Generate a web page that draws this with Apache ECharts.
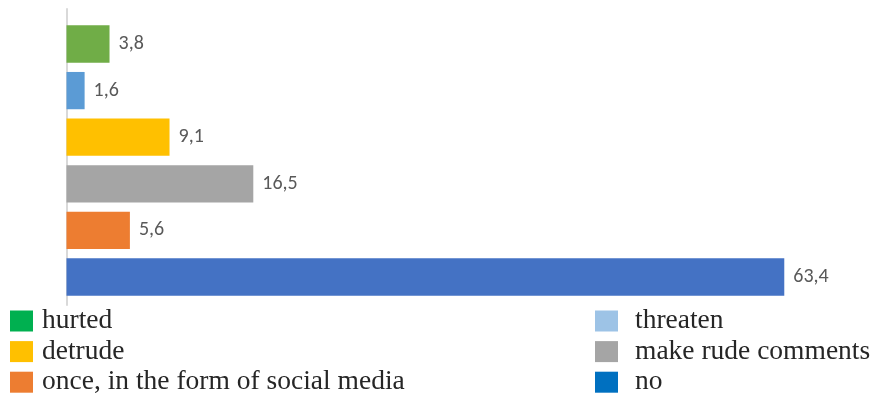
<!DOCTYPE html>
<html>
<head>
<meta charset="utf-8">
<style>
  html, body { margin: 0; padding: 0; background: #fff; }
  #chart { width: 871px; height: 396px; }
</style>
<script src="https://cdn.jsdelivr.net/npm/echarts@6/dist/echarts.min.js"></script>
</head>
<body>
<div id="chart"></div>
<script>
// Answers, top to bottom
const categories = [
  'hurted',
  'threaten',
  'detrude',
  'make rude comments',
  'once, in the form of social media',
  'no'
];
const values = [3.8, 1.6, 9.1, 16.5, 5.6, 63.4];
const barColors = ['#70AD47', '#5B9BD5', '#FFC000', '#A5A5A5', '#ED7D31', '#4472C4'];
const legendColors = ['#00B050', '#9DC3E6', '#FFC000', '#A5A5A5', '#ED7D31', '#0070C0'];
// Legend columns (indices into categories)
const leftColumn = [0, 2, 4];
const rightColumn = [1, 3, 5];

const fmt = v => String(v).replace('.', ',');

// One stacked series per answer so each bar gets its own legend entry
const series = categories.map((name, i) => ({
  name: name,
  type: 'bar',
  stack: 'all',
  xAxisIndex: 0,
  yAxisIndex: 0,
  barCategoryGap: '20%',
  itemStyle: { color: barColors[i] },
  label: {
    show: true,
    position: 'right',
    distance: 9,
    color: '#595959',
    fontFamily: 'Carlito, Calibri, "Open Sans", sans-serif',
    fontSize: 20,
    formatter: p => fmt(p.value)
  },
  data: categories.map((c, j) => (j === i ? values[i] : '-'))
}));

// Narrow horizontal legend: every entry wraps onto its own row
const legendOf = (idx, left, textGap) => ({
  orient: 'horizontal',
  left: left,
  top: 307,
  width: 1,
  padding: 0,
  itemWidth: 23,
  itemHeight: 21,
  itemGap: 2.6,
  icon: 'rect',
  selectedMode: false,
  textStyle: {
    fontFamily: '"Liberation Serif", "Times New Roman", serif',
    fontSize: 27.5,
    color: '#262626',
    padding: [0, 0, 0, textGap]
  },
  data: idx.map(i => ({ name: categories[i], itemStyle: { color: legendColors[i] } }))
});

const chart = echarts.init(document.getElementById('chart'));
chart.setOption({
  animation: false,
  backgroundColor: '#fff',
  grid: [
    { left: 66.5, right: 12, top: 20.7, bottom: 95.7 },
    { left: 66.5, right: 12, top: 9, bottom: 91 }
  ],
  xAxis: [
    { type: 'value', gridIndex: 0, min: 0, max: 70, show: false },
    { type: 'value', gridIndex: 1, min: 0, max: 70, show: false }
  ],
  yAxis: [
    {
      type: 'category',
      gridIndex: 0,
      inverse: true,
      data: categories,
      axisLine: { show: false },
      axisTick: { show: false },
      axisLabel: { show: false }
    },
    {
      type: 'value',
      gridIndex: 1,
      axisLine: { show: true, onZero: false, lineStyle: { color: '#d9d9d9', width: 2 } },
      axisTick: { show: false },
      axisLabel: { show: false },
      splitLine: { show: false }
    }
  ],
  legend: [legendOf(leftColumn, 10, 4), legendOf(rightColumn, 595, 12)],
  series: series
});
</script>
</body>
</html>
